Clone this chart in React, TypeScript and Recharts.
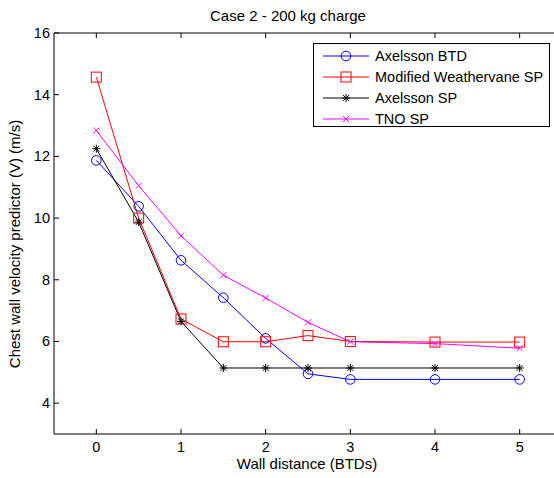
import React from 'react';
import { LineChart, Line, XAxis, YAxis, Legend } from 'recharts';

const distances = [0, 0.5, 1, 1.5, 2, 2.5, 3, 4, 5];
const axelssonBtd = [11.87, 10.38, 8.63, 7.42, 6.1, 4.95, 4.77, 4.77, 4.77];
const weathervaneSp = [14.57, 10.0, 6.73, 5.99, 5.99, 6.19, 6.0, 5.98, 5.98];
const axelssonSp = [12.25, 9.87, 6.65, 5.14, 5.14, 5.14, 5.14, 5.14, 5.14];
const tnoSp = [12.84, 11.05, 9.43, 8.15, 7.41, 6.62, 5.99, 5.93, 5.78];

const xTicks = [0, 1, 2, 3, 4, 5];
const yTicks = [4, 6, 8, 10, 12, 14, 16];

const FONT = '"Liberation Sans", Arial, sans-serif';
const FS = 15;

const data = distances.map((x, i) => ({
  x,
  btd: axelssonBtd[i],
  mw: weathervaneSp[i],
  asp: axelssonSp[i],
  tno: tnoSp[i],
}));

const series = [
  { key: 'btd', name: 'Axelsson BTD', color: '#0000ff', marker: 'circle' },
  { key: 'mw', name: 'Modified Weathervane SP', color: '#ff0000', marker: 'square' },
  { key: 'asp', name: 'Axelsson SP', color: '#000000', marker: 'star' },
  { key: 'tno', name: 'TNO SP', color: '#ff00ff', marker: 'x' },
];

function Marker({ kind, cx, cy, color }: { kind: string; cx: number; cy: number; color: string }) {
  if (kind === 'circle') return <circle cx={cx} cy={cy} r={4.8} fill="none" stroke={color} strokeWidth={1} />;
  if (kind === 'square') return <rect x={cx - 5} y={cy - 5} width={10} height={10} fill="none" stroke={color} strokeWidth={1} />;
  if (kind === 'star') {
    const r = 4;
    const d = 2.9;
    return (
      <g stroke={color} strokeWidth={1}>
        <line x1={cx - r} y1={cy} x2={cx + r} y2={cy} />
        <line x1={cx} y1={cy - r} x2={cx} y2={cy + r} />
        <line x1={cx - d} y1={cy - d} x2={cx + d} y2={cy + d} />
        <line x1={cx - d} y1={cy + d} x2={cx + d} y2={cy - d} />
      </g>
    );
  }
  const d = 3;
  return (
    <g stroke={color} strokeWidth={1}>
      <line x1={cx - d} y1={cy - d} x2={cx + d} y2={cy + d} />
      <line x1={cx - d} y1={cy + d} x2={cx + d} y2={cy - d} />
    </g>
  );
}

const makeDot = (kind: string, color: string) => (props: any) => (
  <Marker key={`${kind}-${props.index}`} kind={kind} cx={props.cx} cy={props.cy} color={color} />
);

const BottomTick = (props: any) => {
  const { x, y, payload } = props;
  return (
    <g>
      <line x1={x} y1={y} x2={x} y2={y - 5} stroke="#000" />
      <text x={x} y={y + 17.5} textAnchor="middle" fontFamily={FONT} fontSize={14.5} fill="#000">
        {payload.value}
      </text>
    </g>
  );
};

const TopTick = (props: any) => {
  const { x, y } = props;
  return <line x1={x} y1={y} x2={x} y2={y + 5} stroke="#000" />;
};

const LeftTick = (props: any) => {
  const { x, y, payload } = props;
  return (
    <g>
      <line x1={x} y1={y} x2={x + 5} y2={y} stroke="#000" />
      <text x={x - 4} y={y + 5} textAnchor="end" fontFamily={FONT} fontSize={14.5} fill="#000">
        {payload.value}
      </text>
    </g>
  );
};

const LegendBox = () => (
  <div
    style={{
      width: 237,
      height: 84,
      border: '1px solid #000',
      background: '#fff',
      boxSizing: 'border-box',
    }}
  >
    <svg width={235} height={82} style={{ display: 'block' }}>
      {series.map((s, i) => {
        const cy = 12 + i * 21;
        return (
          <g key={s.key}>
            <line x1={9} y1={cy} x2={55} y2={cy} stroke={s.color} strokeWidth={1} />
            <Marker kind={s.marker} cx={32} cy={cy} color={s.color} />
            <text x={61} y={cy + 5} fontFamily={FONT} fontSize={14.5} fill="#000">
              {s.name}
            </text>
          </g>
        );
      })}
    </svg>
  </div>
);

export default function App() {
  return (
    <div style={{ position: 'absolute', left: 0, top: 0, width: 554, height: 478, overflow: 'hidden', background: '#fff' }}>
      <LineChart width={600} height={478} data={data} margin={{ top: 32, right: 38, bottom: 0, left: 0 }}>
        <XAxis
          dataKey="x"
          type="number"
          domain={[-0.5, 5.5]}
          ticks={xTicks}
          allowDataOverflow
          height={44}
          tickSize={0}
          tickMargin={0}
          tickLine={false}
          tick={BottomTick}
          axisLine={{ stroke: '#000' }}
          interval={0}
        />
        <XAxis
          xAxisId="top"
          orientation="top"
          dataKey="x"
          type="number"
          domain={[-0.5, 5.5]}
          ticks={xTicks}
          allowDataOverflow
          height={1}
          tickSize={0}
          tickMargin={0}
          tickLine={false}
          tick={TopTick}
          axisLine={{ stroke: '#000' }}
          interval={0}
        />
        <YAxis
          type="number"
          domain={[3, 16]}
          ticks={yTicks}
          allowDataOverflow
          width={54}
          tickSize={0}
          tickMargin={0}
          tickLine={false}
          tick={LeftTick}
          axisLine={{ stroke: '#000' }}
          interval={0}
        />
        <Legend
          layout="vertical"
          align="center"
          verticalAlign="middle"
          content={() => <LegendBox />}
          wrapperStyle={{ position: 'absolute', left: 313, top: 43, width: 237, height: 84 }}
        />
        {series.map((s) => (
          <Line
            key={s.key}
            dataKey={s.key}
            name={s.name}
            type="linear"
            stroke={s.color}
            strokeWidth={1}
            dot={makeDot(s.marker, s.color)}
            activeDot={false}
            isAnimationActive={false}
          />
        ))}
      </LineChart>
      <svg width={554} height={478} style={{ position: 'absolute', left: 0, top: 0, pointerEvents: 'none' }}>
        <text x={288} y={21} textAnchor="middle" fontFamily={FONT} fontSize={FS} fill="#000">
          Case 2 - 200 kg charge
        </text>
        <text x={307} y={469} textAnchor="middle" fontFamily={FONT} fontSize={FS} fill="#000">
          Wall distance (BTDs)
        </text>
        <text
          x={0}
          y={0}
          transform="translate(20, 244) rotate(-90)"
          textAnchor="middle"
          fontFamily={FONT}
          fontSize={FS}
          fill="#000"
        >
          Chest wall velocity predictor (V) (m/s)
        </text>
      </svg>
    </div>
  );
}
